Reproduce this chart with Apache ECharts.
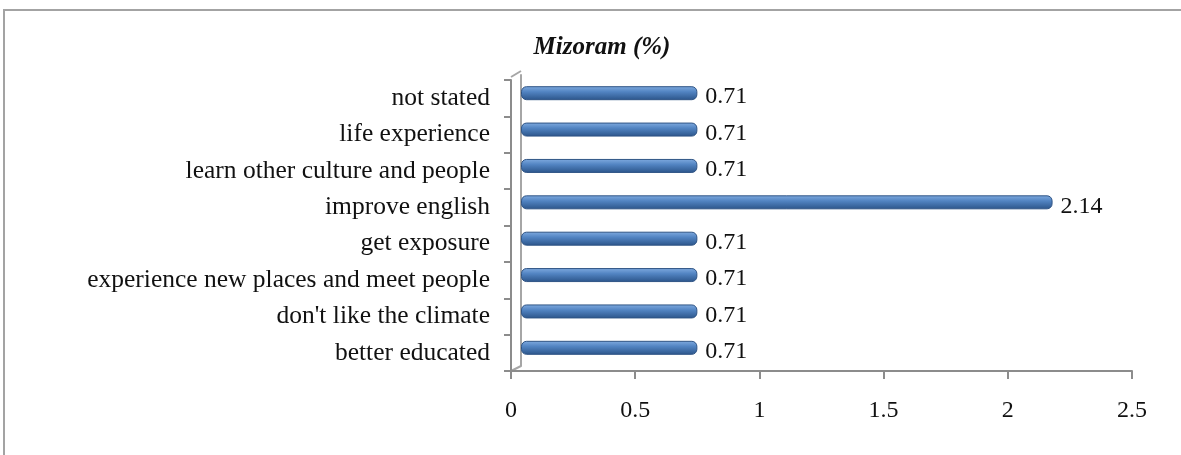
<!DOCTYPE html>
<html>
<head>
<meta charset="utf-8">
<script src="https://cdn.jsdelivr.net/npm/echarts@6/dist/echarts.min.js"></script>
<style>
  html, body { margin: 0; padding: 0; background: #fff; }
  #chart { width: 1181px; height: 455px; }
</style>
</head>
<body>
<div id="chart"></div>
<script>
// Reasons given (Mizoram, %), listed bottom to top as on the axis
const categories = [
  'better educated',
  "don't like the climate",
  'experience new places and meet people',
  'get exposure',
  'improve english',
  'learn other culture and people',
  'life experience',
  'not stated'
];
const values = [0.71, 0.71, 0.71, 0.71, 2.14, 0.71, 0.71, 0.71];
const xTicks = ['0', '0.5', '1', '1.5', '2', '2.5'];

const serif = '"Liberation Serif", "DejaVu Serif", serif';
const axisGray = '#8c8c8c';
const ink = '#111111';

const chart = echarts.init(document.getElementById('chart'), null, { renderer: 'canvas' });

// front plane (axes) and back plane (bars) of the 3-D style plot
const front = { left: 511, top: 80, width: 621, height: 291 };
const back = { left: 521, top: 75, width: 621, height: 291 };

chart.setOption({
  animation: false,
  backgroundColor: '#ffffff',
  title: {
    text: 'Mizoram (%)',
    left: 597,
    top: 30,
    textAlign: 'center',
    textStyle: {
      fontFamily: serif,
      fontStyle: 'italic',
      fontWeight: 'bold',
      fontSize: 25,
      color: ink
    }
  },
  grid: [
    Object.assign({ containLabel: false }, front),
    Object.assign({ containLabel: false }, back)
  ],
  xAxis: [
    {
      gridIndex: 0,
      type: 'value',
      min: 0,
      max: 2.5,
      interval: 0.5,
      axisLine: { show: true, lineStyle: { color: axisGray, width: 2 } },
      axisTick: { show: true, inside: false, length: 8, lineStyle: { color: axisGray, width: 2 } },
      splitLine: { show: false },
      axisLabel: {
        margin: 28,
        fontFamily: serif,
        fontSize: 24,
        color: ink,
        formatter: (v) => xTicks[Math.round(v / 0.5)]
      }
    },
    {
      gridIndex: 1,
      type: 'value',
      min: 0,
      max: 2.5,
      show: false
    }
  ],
  yAxis: [
    {
      gridIndex: 0,
      type: 'category',
      data: categories,
      axisLine: { show: true, lineStyle: { color: axisGray, width: 2 } },
      axisTick: { show: true, inside: false, length: 7, alignWithLabel: false, lineStyle: { color: axisGray, width: 2 } },
      axisLabel: {
        margin: 21,
        fontFamily: serif,
        fontSize: 25.5,
        color: ink
      }
    },
    {
      gridIndex: 1,
      type: 'category',
      data: categories,
      axisLine: { show: true, lineStyle: { color: '#a6a6a6', width: 2 } },
      axisTick: { show: false },
      axisLabel: { show: false }
    }
  ],
  series: [
    {
      type: 'bar',
      xAxisIndex: 1,
      yAxisIndex: 1,
      data: values,
      barWidth: 14,
      itemStyle: {
        borderRadius: 5,
        borderColor: '#2f5485',
        borderWidth: 1,
        color: new echarts.graphic.LinearGradient(0, 0, 0, 1, [
          { offset: 0, color: '#80abe0' },
          { offset: 0.4, color: '#5284c2' },
          { offset: 1, color: '#2b5489' }
        ])
      },
      label: {
        show: true,
        position: 'right',
        distance: 8,
        offset: [0, 4],
        fontFamily: serif,
        fontSize: 24,
        color: ink,
        formatter: (p) => p.value.toFixed(2)
      }
    }
  ],
  graphic: [
    // outer frame
    {
      type: 'rect',
      shape: { x: 4, y: 10, width: 1200, height: 480 },
      style: { fill: null, stroke: '#a3a3a3', lineWidth: 2 },
      silent: true
    },
    // wall corners joining front and back planes
    {
      type: 'line',
      shape: { x1: front.left, y1: front.top - 3, x2: back.left, y2: back.top - 4 },
      style: { stroke: '#a6a6a6', lineWidth: 2 },
      silent: true
    },
    {
      type: 'line',
      shape: { x1: front.left, y1: front.top + front.height, x2: back.left, y2: back.top + back.height },
      style: { stroke: '#a6a6a6', lineWidth: 2 },
      silent: true
    }
  ]
});
</script>
</body>
</html>
